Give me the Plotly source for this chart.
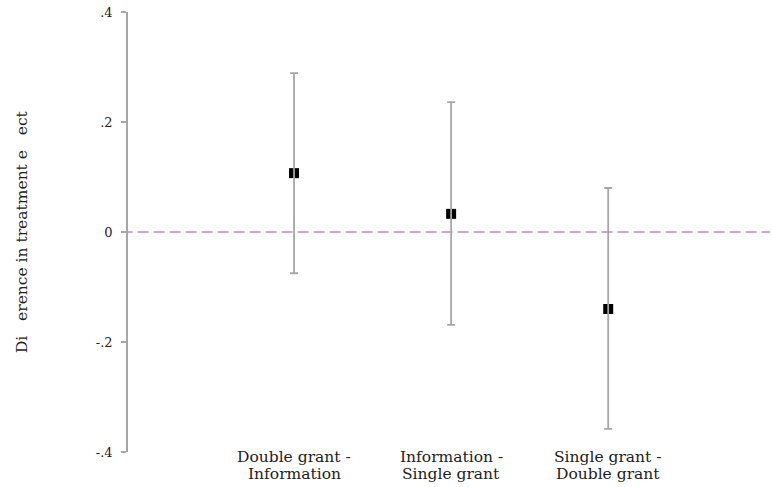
import plotly.graph_objects as go

categories = ["Double grant -<br>Information", "Information -<br>Single grant", "Single grant -<br>Double grant"]
positions = [1, 2, 3]
estimates = [0.107, 0.033, -0.140]
ci_upper = [0.289, 0.236, 0.080]
ci_lower = [-0.075, -0.169, -0.358]
ytick_vals = [-0.4, -0.2, 0, 0.2, 0.4]
ytick_text = ["-.4", "-.2", "0", ".2", ".4"]

FONT = "DejaVu Serif"

err_plus = [u - e for u, e in zip(ci_upper, estimates)]
err_minus = [e - l for e, l in zip(estimates, ci_lower)]

fig = go.Figure()
# zero reference line
fig.add_trace(go.Scatter(
    x=[-0.2, 4.2], y=[0, 0], mode="lines",
    line=dict(color="#dba3c9", width=2, dash="11px,5px"),
    hoverinfo="skip", showlegend=False))
# markers
fig.add_trace(go.Scatter(
    x=positions, y=estimates, mode="markers",
    marker=dict(symbol="square", size=10, color="black"),
    showlegend=False))
# confidence intervals drawn on top
fig.add_trace(go.Scatter(
    x=positions, y=estimates, mode="markers",
    marker=dict(size=1, opacity=0),
    error_y=dict(type="data", symmetric=False, array=err_plus, arrayminus=err_minus,
                 color="#a6a6a6", thickness=1.8, width=4),
    showlegend=False))

for xp, lab in zip(positions, categories):
    for i, line in enumerate(lab.split("<br>")):
        fig.add_annotation(x=xp, y=0, xref="x", yref="paper", text=line, showarrow=False,
                           yanchor="top", xanchor="center", yshift=6 - 17 * i,
                           font=dict(family=FONT, size=15.5, color="#222222"))

fig.add_annotation(x=-0.165, y=0.5, xref="paper", yref="paper",
                   text="Di   erence in treatment e   ect", textangle=-90,
                   showarrow=False, xanchor="center", yanchor="middle",
                   font=dict(family=FONT, size=15.5, color="#222222"))

fig.update_xaxes(range=[-0.057, 4.03], showline=False, showgrid=False, zeroline=False,
                 showticklabels=False, ticks="", automargin=False)
fig.update_yaxes(range=[-0.4, 0.4], tickvals=ytick_vals, ticktext=ytick_text,
                 showline=True, linecolor="#a6a6a6", linewidth=1.5,
                 ticks="outside", ticklen=5, tickcolor="#a6a6a6", tickwidth=1.5,
                 showgrid=False, zeroline=False, automargin=False,
                 ticklabeloverflow="allow", ticklabelstandoff=6,
                 tickfont=dict(family=FONT, size=13, color="#222222"))
fig.update_layout(width=772, height=487, margin=dict(l=128, r=2, t=12, b=35),
                  plot_bgcolor="white", paper_bgcolor="white")

# remove the default 8px page margin so the figure fills the window exactly
fig.write_html("out.html", config={"displayModeBar": False},
               post_script="document.body.style.margin='0px';")
